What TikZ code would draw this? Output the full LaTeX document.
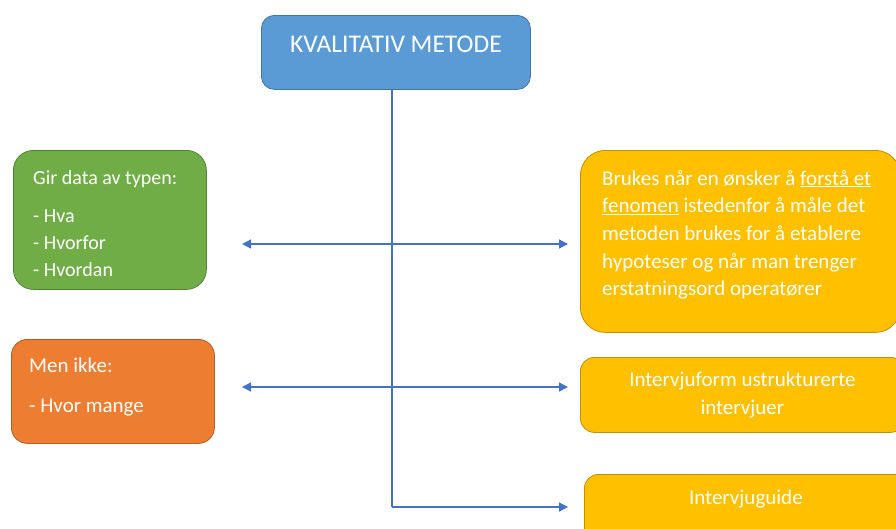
\documentclass[tikz,border=0pt]{standalone}
\usepackage{fontspec}
\setmainfont{Carlito}
\usepackage{xcolor}
\usetikzlibrary{arrows.meta,positioning}

\definecolor{boxblue}{HTML}{5B9BD5}
\definecolor{boxgreen}{HTML}{70AD47}
\definecolor{boxorange}{HTML}{ED7D31}
\definecolor{boxyellow}{HTML}{FFC000}
\definecolor{linkblue}{HTML}{4472C4}

\tikzset{
  box/.style={draw=#1!75!black, fill=#1, line width=0.8pt, anchor=north west, inner sep=0pt},
  boxtext/.style={text=white, inner sep=0pt, align=left, font=\fontsize{21}{27.7}\selectfont},
  link/.style={draw=linkblue, line width=1.3pt},
  tip/.style={-{Triangle[length=9pt,width=9pt]}},
  tips/.style={{Triangle[length=9pt,width=9pt]}-{Triangle[length=9pt,width=9pt]}}
}

\begin{document}
\begin{tikzpicture}[x=1pt,y=-1pt]
 \useasboundingbox[fill=white] (0,0) rectangle (896,528);
 \clip (0,0) rectangle (896,528);
% nodes
 \node[box=boxblue, rounded corners=13pt, minimum width=269pt, minimum height=74pt] (kvalitativ) at (261,15) {};
 \node[boxtext, font=\fontsize{25.5}{28}\selectfont, below=21pt of kvalitativ.north] (kvalitativtxt) {KVALITATIV METODE};

 \node[box=boxgreen, rounded corners=20pt, minimum width=193pt, minimum height=139pt] (gir) at (13,150) {};
 \node[boxtext, font=\fontsize{20}{27}\selectfont, below right=20pt and 20pt of gir.north west] (girtxt) {Gir data av typen:\\[11pt]- Hva\\- Hvorfor\\- Hvordan};

 \node[box=boxorange, rounded corners=16pt, minimum width=203pt, minimum height=104pt] (ikke) at (11,339) {};
 \node[boxtext, font=\fontsize{21}{27}\selectfont, below right=19pt and 18pt of ikke.north west] (ikketxt) {Men ikke:\\[13pt]- Hvor mange};

 \node[box=boxyellow, rounded corners=25pt, minimum width=320pt, minimum height=182pt] (brukes) at (580,150) {};
 \node[boxtext, below right=20pt and 22pt of brukes.north west] (brukestxt)
  {Brukes når en ønsker å \underline{forstå et}\\\underline{fenomen} istedenfor å måle det\\metoden brukes for å etablere\\hypoteser og når man trenger\\erstatningsord operatører};

 \node[box=boxyellow, rounded corners=14pt, minimum width=324pt, minimum height=75pt] (form) at (580,357) {};
 \node[boxtext, align=center] (formtxt) at (form.center) {Intervjuform ustrukturerte\\intervjuer};

 \node[box=boxyellow, rounded corners=14pt, minimum width=323pt, minimum height=80pt] (guide) at (584,474) {};
 \node[boxtext, below=16pt of guide.north] (guidetxt) {Intervjuguide};

% edges
 \coordinate (a1) at (242,244); \coordinate (b1) at (568,244);
 \coordinate (a2) at (242,387); \coordinate (b2) at (568,387);
 \coordinate (c3) at (392,507); \coordinate (b3) at (568,507);

 \draw[link] (kvalitativ.south -| c3) -- (c3);
 \draw[link, tips] (a1) -- (b1);
 \draw[link, tips] (a2) -- (b2);
 \draw[link, tip] (c3) -- (b3);
\end{tikzpicture}
\end{document}
